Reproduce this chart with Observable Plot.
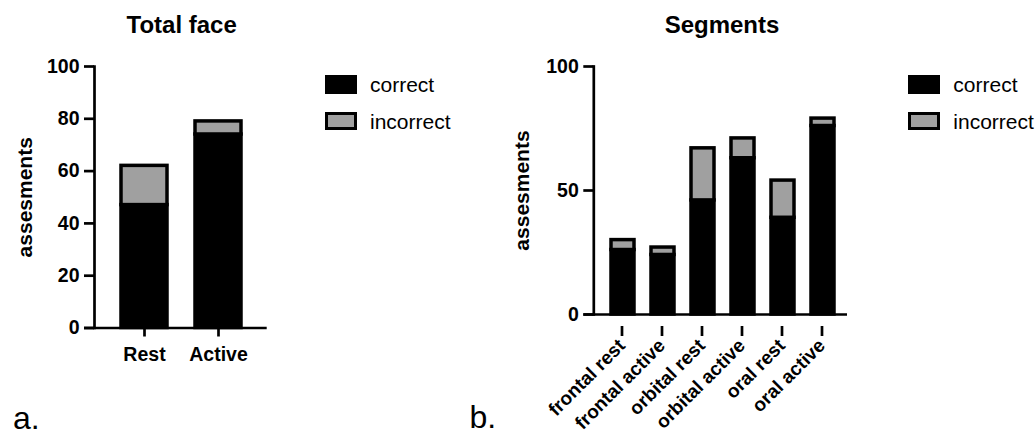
<!DOCTYPE html>
<html>
<head>
<meta charset="utf-8">
<script src="https://cdn.jsdelivr.net/npm/d3@7"></script>
<script src="https://cdn.jsdelivr.net/npm/@observablehq/plot@0.6"></script>
<style>
  html, body { margin: 0; padding: 0; background: #fff; }
  #root { position: relative; width: 1035px; height: 435px; overflow: hidden;
          font-family: "Liberation Sans", Arial, Helvetica, sans-serif; color: #000; }
  .panel { position: absolute; top: 0; }
  .title { position: absolute; font-size: 24px; line-height: 24px; font-weight: bold; text-align: center; white-space: nowrap; }
  .lbl { position: absolute; font-size: 21px; line-height: 21px; white-space: nowrap; }
  .sw { position: absolute; box-sizing: border-box; width: 32px; height: 18.5px; border: 3.5px solid #000; }
  .tag { position: absolute; font-size: 32px; line-height: 26px; }
</style>
</head>
<body>
<div id="root"></div>
<script>
// ---- data ----
const totalCategories = ["Rest", "Active"];
const totalCorrect = [47, 74];
const totalIncorrect = [15, 5];
const totalTicks = [0, 20, 40, 60, 80, 100];

const segmentCategories = ["frontal rest", "frontal active", "orbital rest", "orbital active", "oral rest", "oral active"];
const segmentCorrect = [26, 24, 46, 63, 39, 76];
const segmentIncorrect = [4, 3, 21, 8, 15, 3];
const segmentTicks = [0, 50, 100];

const seriesNames = ["correct", "incorrect"];
const seriesColors = ["#000000", "#a0a0a0"];
const yLabel = "assesments";

const FONT = '"Liberation Sans", Arial, Helvetica, sans-serif';

function toRows(cats, correct, incorrect) {
  return cats.flatMap((c, i) => [
    {cat: c, type: seriesNames[0], value: correct[i]},
    {cat: c, type: seriesNames[1], value: incorrect[i]}
  ]);
}

function makeChart(opts) {
  const rows = toRows(opts.cats, opts.correct, opts.incorrect);
  return Plot.plot({
    width: opts.width,
    height: 435,
    marginLeft: opts.ml, marginRight: opts.mr, marginTop: 66, marginBottom: opts.mb,
    style: {fontFamily: FONT, background: "transparent", color: "#000", overflow: "visible"},
    x: {domain: opts.cats, paddingInner: opts.pi, paddingOuter: opts.po, align: opts.align, axis: null, label: null},
    y: {domain: [0, 100], axis: null, label: null},
    color: {domain: seriesNames, range: seriesColors},
    marks: [
      Plot.barY(rows, {x: "cat", y: "value", fill: "type", stroke: "#000", strokeWidth: 3.5,
                       order: seriesNames, strokeLinejoin: "miter"}),
      Plot.axisY({ticks: opts.ticks, tickSize: 10, tickPadding: 5, fontSize: 19.5, fontWeight: "bold",
                  strokeWidth: 2.7, tickFormat: d => String(d), label: null}),
      Plot.axisX(Object.assign({tickSize: opts.xTickSize, tickPadding: opts.xTickPad, fontSize: 19.5, fontWeight: "bold",
                  strokeWidth: 2.7, label: null}, opts.xAxisExtra || {})),
      Plot.ruleY([0], {insetLeft: -10, strokeWidth: 2.7}),
      Plot.frame({anchor: "left", strokeWidth: 2.7}),
      Plot.text([yLabel], {frameAnchor: "left", textAnchor: "middle", dx: opts.labelDx, rotate: -90,
                           fontSize: 21, fontWeight: "bold"})
    ]
  });
}

const root = document.getElementById("root");

const left = makeChart({
  width: 470, ml: 94, mr: 203.3, mb: 107.5,
  cats: totalCategories, correct: totalCorrect, incorrect: totalIncorrect, ticks: totalTicks,
  pi: 0.385, po: 0.352, align: 0.5, xTickSize: 9, xTickPad: 10, labelDx: -69
});
const right = makeChart({
  width: 565, ml: 123.3, mr: 188, mb: 121,
  cats: segmentCategories, correct: segmentCorrect, incorrect: segmentIncorrect, ticks: segmentTicks,
  pi: 0.424, po: 0.36, align: 0.578, xTickSize: 10, xTickPad: 6, labelDx: -71.6,
  xAxisExtra: {tickRotate: -45, dx: -1, dy: 12, fontSize: 19}
});

const pl = document.createElement("div"); pl.className = "panel"; pl.style.left = "0px"; pl.appendChild(left); root.appendChild(pl);
const pr = document.createElement("div"); pr.className = "panel"; pr.style.left = "470px"; pr.appendChild(right); root.appendChild(pr);

function addDiv(cls, text, styles) {
  const d = document.createElement("div");
  d.className = cls;
  if (text != null) d.textContent = text;
  Object.assign(d.style, styles);
  root.appendChild(d);
  return d;
}

// titles
addDiv("title", "Total face", {left: "81.7px", width: "200px", top: "13px"});
addDiv("title", "Segments", {left: "622px", width: "200px", top: "13px"});

// legends
function legend(x0, tx) {
  seriesNames.forEach((name, i) => {
    const top = [75, 111.7][i];
    addDiv("sw", null, {left: x0 + "px", top: top + "px", background: seriesColors[i]});
    addDiv("lbl", name, {left: tx + "px", top: [73.9, 110.5][i] + "px"});
  });
}
legend(325, 370);
legend(907.7, 953.3);

// panel tags
addDiv("tag", "a.", {left: "13px", top: "405px"});
addDiv("tag", "b.", {left: "469.5px", top: "404px"});
</script>
</body>
</html>
